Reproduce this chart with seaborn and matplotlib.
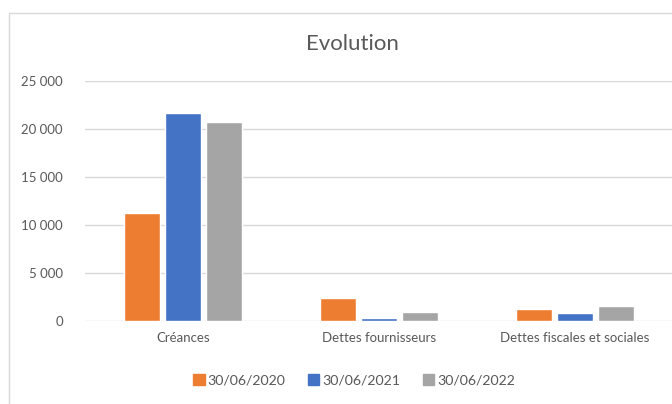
import pandas as pd
import numpy as np
import seaborn as sns
from matplotlib import pyplot as plt
from matplotlib import patches as mpatches
from matplotlib.ticker import FuncFormatter

categories = ["Créances", "Dettes fournisseurs", "Dettes fiscales et sociales"]
dates = ["30/06/2020", "30/06/2021", "30/06/2022"]
v_2020 = [11250, 2400, 1250]
v_2021 = [21700, 280, 830]
v_2022 = [20700, 970, 1530]
colors = ["#ED7D31", "#4472C4", "#A5A5A5"]

rows = []
for d, vals in zip(dates, [v_2020, v_2021, v_2022]):
    for c, v in zip(categories, vals):
        rows.append({"cat": c, "date": d, "val": v})
df = pd.DataFrame(rows)

sns.set_style("white")
plt.rcParams['font.family'] = ['Lato', 'DejaVu Sans']

fig = plt.figure(figsize=(6.72, 4.04), dpi=100)
ax = fig.add_axes([0.1265, 0.2054, 0.875, 0.5941])

sns.barplot(data=df, x="cat", y="val", hue="date", palette=colors,
            width=0.63, gap=0.11, saturation=1, ax=ax, legend=False)

ax.set_ylim(0, 25000)
ax.set_xlim(-0.5, 2.5)
ax.set_yticks(np.arange(0, 25001, 5000))
ax.yaxis.set_major_formatter(FuncFormatter(lambda v, p: f"{int(v):,}".replace(",", " ")))
ax.grid(axis="y", color="#D9D9D9", linewidth=1)
ax.set_axisbelow(True)
for s in ax.spines.values():
    s.set_visible(False)
ax.tick_params(axis="both", length=0, labelsize=9.5, labelcolor="#595959")
ax.tick_params(axis="y", pad=16)
ax.tick_params(axis="x", pad=8)
ax.set_xlabel("")
ax.set_ylabel("")

fig.text(352 / 672, 1 - 44 / 404, "Evolution", ha="center", va="center",
         fontsize=16, color="#595959")

handles = [mpatches.Patch(color=c, label=d) for c, d in zip(colors, dates)]
fig.legend(handles=handles, loc="center", bbox_to_anchor=(354 / 672, 1 - 380 / 404),
           ncol=3, frameon=False, fontsize=10.2, labelcolor="#595959",
           handlelength=0.8, handleheight=0.8, handletextpad=0.2, columnspacing=1.6)

# chart border
fig.patches.append(mpatches.Rectangle((9 / 672, -0.1), 1.2, 1 - 13 / 404 + 0.1,
                                      transform=fig.transFigure, fill=False,
                                      edgecolor="#D9D9D9", linewidth=1))

fig.savefig("out.png", dpi=100)
